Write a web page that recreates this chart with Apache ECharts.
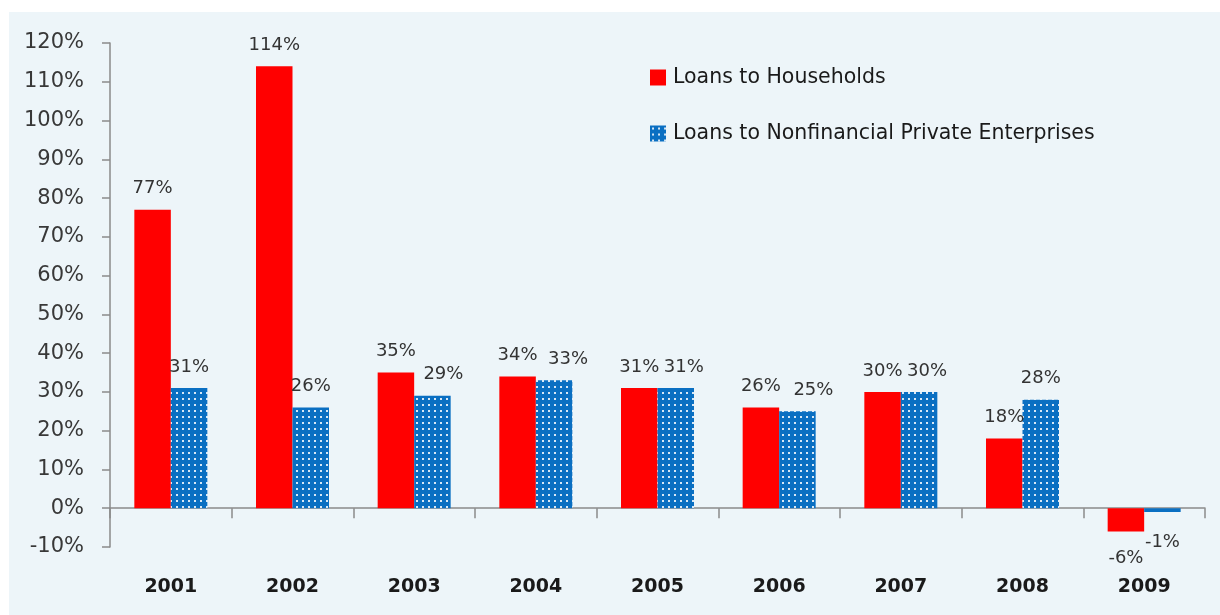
<!DOCTYPE html>
<html>
<head>
<meta charset="utf-8">
<script src="https://cdn.jsdelivr.net/npm/echarts@6/dist/echarts.min.js"></script>
<style>
  html, body { margin: 0; padding: 0; background: #ffffff; }
  #wrap { position: relative; width: 1220px; height: 615px; overflow: hidden; }
  #panel { position: absolute; left: 9px; top: 12px; width: 1211px; height: 603px; background: #edf5f9; }
  #chart { position: absolute; left: 0; top: 0; width: 1220px; height: 615px; }
</style>
</head>
<body>
<div id="wrap">
  <div id="panel"></div>
  <div id="chart"></div>
</div>
<script>
// Annual growth of bank loans, by borrower
const years = ['2001', '2002', '2003', '2004', '2005', '2006', '2007', '2008', '2009'];
const households = [77, 114, 35, 34, 31, 26, 30, 18, -6];
const enterprises = [31, 26, 29, 33, 31, 25, 30, 28, -1];
const seriesNames = ['Loans to Households', 'Loans to Nonfinancial Private Enterprises'];

// Sideways nudge (px) of the enterprise labels so they clear their neighbours
const enterpriseLabelShift = [0, 0, 11, 14, 8, 16, 8, 0, 0];

// Dotted fill for the enterprise bars
function dotPattern() {
  const c = document.createElement('canvas');
  c.width = 6; c.height = 6;
  const g = c.getContext('2d');
  g.fillStyle = '#0a6fc2';
  g.fillRect(0, 0, 6, 6);
  g.fillStyle = '#d8e8f6';
  g.fillRect(2, 2, 2, 2);
  return c;
}

const FONT = 'DejaVu Sans';

function withLabels(values, posDist, negDist, shift) {
  return values.map((v, i) => ({
    value: v,
    label: {
      position: v < 0 ? 'bottom' : 'top',
      distance: v < 0 ? negDist : posDist,
      offset: [shift ? shift[i] : 0, 0]
    }
  }));
}

const chart = echarts.init(document.getElementById('chart'), null, { renderer: 'canvas' });

const labelStyle = {
  show: true,
  formatter: p => p.value + '%',
  fontFamily: FONT,
  fontSize: 18,
  color: '#333333'
};

chart.setOption({
  backgroundColor: 'transparent',
  animation: false,
  grid: { left: 110, right: 15, top: 43, bottom: 68, containLabel: false, outerBoundsMode: 'none' },
  legend: {
    orient: 'vertical',
    left: 650,
    top: 67,
    padding: 0,
    itemWidth: 16,
    itemHeight: 16,
    itemGap: 35,
    icon: 'rect',
    textStyle: { fontFamily: FONT, fontSize: 20.5, lineHeight: 16, color: '#1a1a1a', padding: [0, 0, 0, 2] },
    data: seriesNames
  },
  xAxis: {
    type: 'category',
    data: years,
    boundaryGap: true,
    axisLine: { onZero: true, lineStyle: { color: '#8a8a8a', width: 1.5 } },
    axisTick: { show: true, length: 10, lineStyle: { color: '#8a8a8a', width: 1.5 } },
    axisLabel: { margin: 31, fontFamily: FONT, fontSize: 19, fontWeight: 'bold', color: '#1a1a1a' },
    splitLine: { show: false }
  },
  yAxis: {
    type: 'value',
    min: -10,
    max: 120,
    interval: 10,
    axisLine: { show: true, lineStyle: { color: '#8a8a8a', width: 1.5 } },
    axisTick: { show: true, length: 8, lineStyle: { color: '#8a8a8a', width: 1.5 } },
    axisLabel: { formatter: '{value}%', margin: 26, fontFamily: FONT, fontSize: 21, color: '#383838' },
    splitLine: { show: false }
  },
  series: [
    {
      name: seriesNames[0],
      type: 'bar',
      barWidth: '30%',
      barGap: '0%',
      itemStyle: { color: '#ff0000' },
      label: labelStyle,
      data: withLabels(households, 12, 18)
    },
    {
      name: seriesNames[1],
      type: 'bar',
      barWidth: '30%',
      barGap: '0%',
      itemStyle: { color: { image: dotPattern(), repeat: 'repeat' } },
      label: labelStyle,
      data: withLabels(enterprises, 12, 21, enterpriseLabelShift)
    }
  ]
});
</script>
</body>
</html>
